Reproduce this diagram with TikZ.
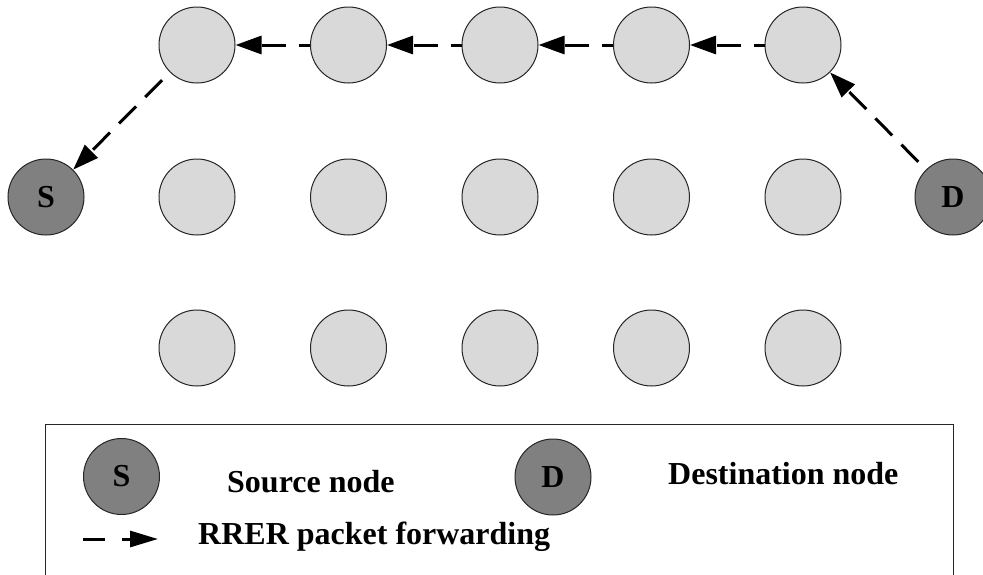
\documentclass[tikz,border=0pt]{standalone}
\usepackage{fontspec}
\setmainfont{Liberation Serif}
\usetikzlibrary{arrows.meta}
\definecolor{lightnode}{HTML}{D9D9D9}
\definecolor{darknode}{HTML}{808080}
\begin{document}
\begin{tikzpicture}[x=1pt,y=-1pt,
  nd/.style={circle,minimum size=76pt,inner sep=0pt,draw=black!85,line width=1pt,fill=lightnode},
  dk/.style={nd,fill=darknode,font=\bfseries\fontsize{32}{32}\selectfont},
  fwd/.style={line width=3pt,dash pattern=on 24pt off 13pt,-{Triangle[length=26pt,width=18pt]}},
  lbl/.style={anchor=base west,font=\bfseries\fontsize{32}{32}\selectfont,inner sep=0pt},
  legbox/.style={draw=black!85,line width=1pt}]
\useasboundingbox (0,0) rectangle (983,574);
% top row
\foreach \i/\x in {1/197,2/348.5,3/500,4/651.5,5/803}{
  \node[nd] (t\i) at (\x,45) {};
  \node[nd] (m\i) at (\x,197) {};
  \node[nd] (b\i) at (\x,348) {};
}
\node[dk] (S) at (46,197) {S};
\node[dk] (D) at (953,197) {D};
% forwarding path
\draw[fwd,dash phase=26pt] (D) -- (t5);
\draw[fwd,dash phase=13pt] (t5) -- (t4);
\draw[fwd,dash phase=13pt] (t4) -- (t3);
\draw[fwd,dash phase=13pt] (t3) -- (t2);
\draw[fwd,dash phase=13pt] (t2) -- (t1);
\draw[fwd,dash phase=26pt] (t1) -- (S);
% legend
\draw[legbox] (45,575) -- (45,424) -- (953,424) -- (953,575);
\node[dk] (legS) at (121.5,476.5) {S};
\node[dk] (legD) at (553,477) {D};
\node[lbl] (txtS) at (227,492) {Source node};
\node[lbl] (txtD) at (668,484) {Destination node};
\node[lbl] (txtR) at (198,544) {RRER packet forwarding};
\coordinate (la1) at (83,539);
\coordinate (la2) at (158,539);
\draw[line width=3pt,dash pattern=on 22pt off 17pt,-{Triangle[length=28pt,width=16pt]}] (la1) -- (la2);
\end{tikzpicture}
\end{document}
